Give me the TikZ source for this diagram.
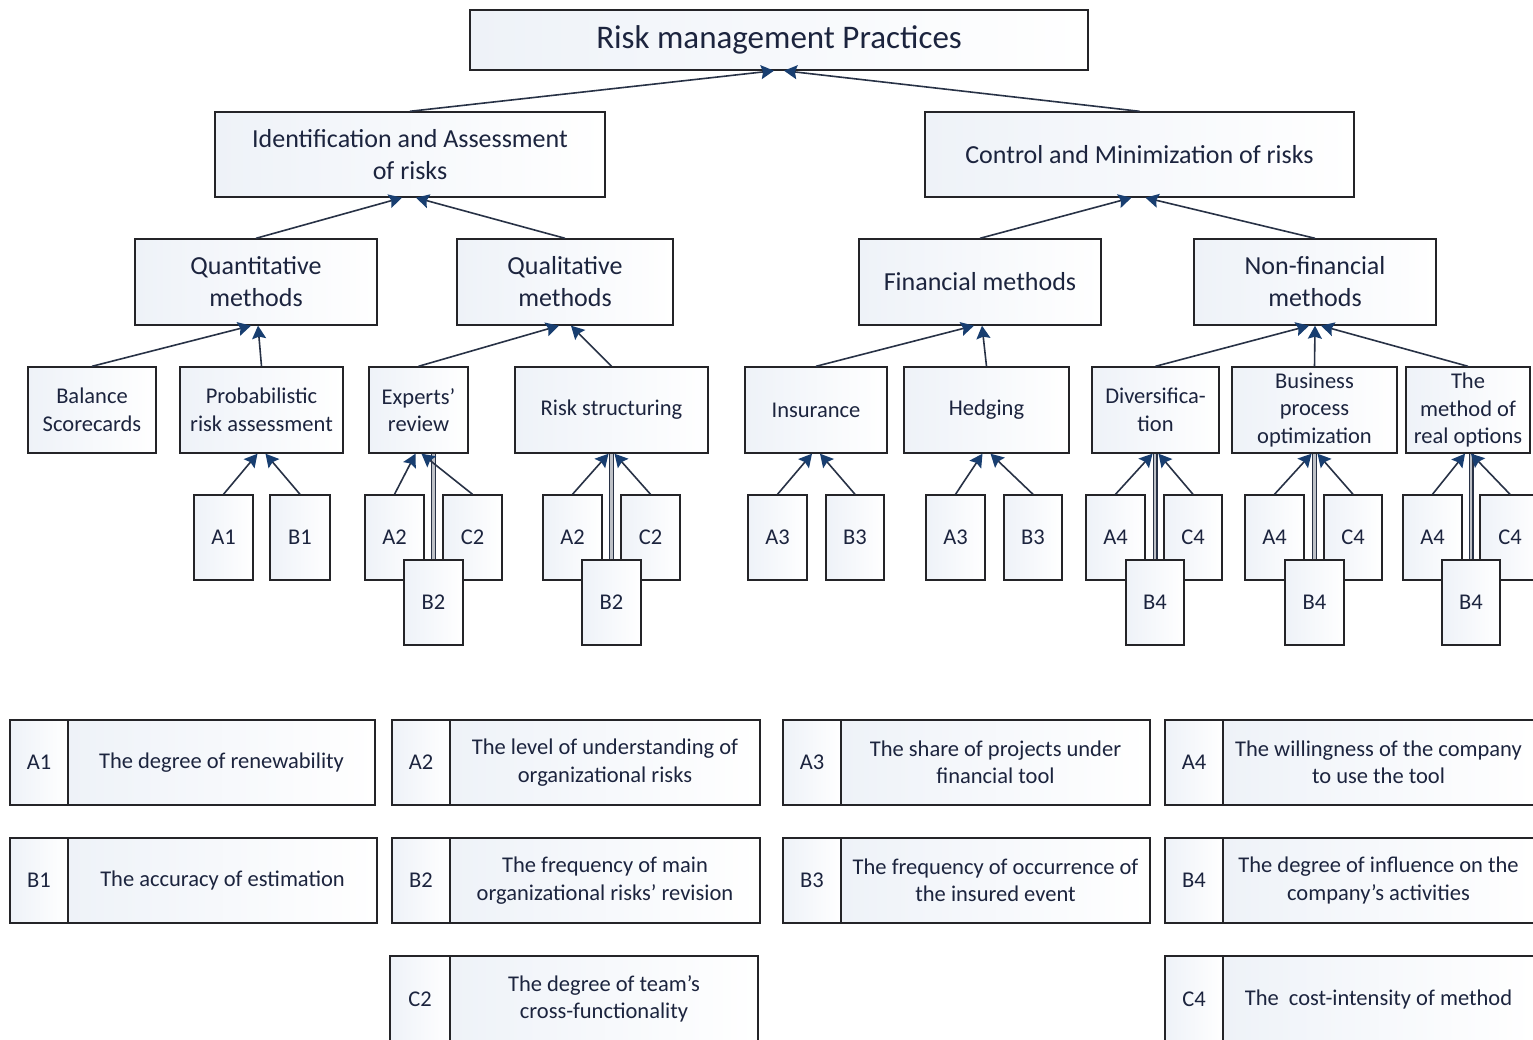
\documentclass[tikz,border=0pt]{standalone}
\usepackage{fontspec}
\setmainfont{Carlito}
\usetikzlibrary{arrows.meta}
\definecolor{txt}{RGB}{28,36,62}
\definecolor{edge}{RGB}{36,36,40}
\definecolor{shd}{RGB}{238,242,248}
\definecolor{lnk}{RGB}{40,50,70}
\definecolor{tip}{RGB}{24,62,112}
\tikzset{
  box/.style={draw=edge, line width=1.4pt, left color=shd, middle color=white, right color=white,
    text=txt, align=center, inner sep=0pt},
  fTop/.style={font=\fontsize{33}{38}\selectfont},
  fMid/.style={font=\fontsize{26}{32}\selectfont},
  fLow/.style={font=\fontsize{22.5}{27.5}\selectfont},
  fKey/.style={font=\fontsize{22.5}{27.5}\selectfont},
  conn/.style={draw=lnk, line width=1.6pt, -{Stealth[length=13pt,width=14pt,inset=2pt,color=tip]}},
  dbl/.style={draw=lnk, line width=1.2pt, double=lnk!30!white, double distance=2.6pt},
}
% box given by its two corners: style, name, x1, y1, x2, y2, text
\newcommand\rbox[7]{\node[#1, minimum width={#5-#3}, minimum height={#6-#4}] (#2) at ({(#3+#5)/2},{(#4+#6)/2}) {#7};}
\begin{document}
\begin{tikzpicture}[x=1pt,y=-1pt]
\fill[white] (0,0) rectangle (1533,1039);
\clip (0,0) rectangle (1533,1039);

% levels 1-4
\rbox{box,fTop}{top}{470}{10}{1088}{70}{Risk management Practices}
\rbox{box,fMid}{idf}{215}{112}{605}{197}{Identification and Assessment\\of risks}
\rbox{box,fMid}{ctl}{925}{112}{1354}{197}{Control and Minimization of risks}

\rbox{box,fMid}{qnt}{135}{239}{377}{325}{Quantitative\\methods}
\rbox{box,fMid}{qlt}{457}{239}{673}{325}{Qualitative\\methods}
\rbox{box,fMid}{fin}{859}{239}{1101}{325}{Financial methods}
\rbox{box,fMid}{nfn}{1194}{239}{1436}{325}{Non-financial\\methods}

\rbox{box,fLow}{bal}{28}{367}{156}{453}{Balance\\Scorecards}
\rbox{box,fLow}{prb}{180}{367}{343}{453}{Probabilistic\\risk assessment}
\rbox{box,fLow}{exr}{369}{367}{468}{453}{Experts’\\review}
\rbox{box,fLow}{rst}{515}{367}{708}{453}{Risk structuring}
\rbox{box,fLow}{ins}{745}{367}{887}{453}{Insurance}
\rbox{box,fLow}{hdg}{904}{367}{1069}{453}{Hedging}
\rbox{box,fLow}{dvs}{1092}{367}{1219}{453}{Diversifica-\\tion}
\rbox{box,fLow}{bpo}{1232}{367}{1397}{453}{Business\\process\\optimization}
\rbox{box,fLow}{rop}{1406}{367}{1530}{453}{The\\method of\\real options}

% criteria boxes
\rbox{box,fKey}{a1}{194}{495}{253}{580}{A1}
\rbox{box,fKey}{b1}{270}{495}{330}{580}{B1}

\rbox{box,fKey}{ea2}{365}{495}{424}{580}{A2}
\rbox{box,fKey}{ec2}{443}{495}{502}{580}{C2}
\rbox{box,fKey}{eb2}{404}{560}{463}{645}{B2}

\rbox{box,fKey}{ra2}{543}{495}{602}{580}{A2}
\rbox{box,fKey}{rc2}{621}{495}{680}{580}{C2}
\rbox{box,fKey}{rb2}{582}{560}{641}{645}{B2}

\rbox{box,fKey}{ia3}{748}{495}{807}{580}{A3}
\rbox{box,fKey}{ib3}{826}{495}{884}{580}{B3}
\rbox{box,fKey}{ha3}{926}{495}{985}{580}{A3}
\rbox{box,fKey}{hb3}{1004}{495}{1062}{580}{B3}

\rbox{box,fKey}{da4}{1086}{495}{1145}{580}{A4}
\rbox{box,fKey}{dc4}{1164}{495}{1222}{580}{C4}
\rbox{box,fKey}{db4}{1126}{560}{1184}{645}{B4}

\rbox{box,fKey}{pa4}{1245}{495}{1304}{580}{A4}
\rbox{box,fKey}{pc4}{1324}{495}{1382}{580}{C4}
\rbox{box,fKey}{pb4}{1285}{560}{1344}{645}{B4}

\rbox{box,fKey}{oa4}{1403}{495}{1462}{580}{A4}
\rbox{box,fKey}{oc4}{1480}{495}{1540}{580}{C4}
\rbox{box,fKey}{ob4}{1442}{560}{1500}{645}{B4}

% connectors
\draw[conn] (idf.north) -- ([xshift=-5pt]top.south);
\draw[conn] (ctl.north) -- ([xshift=5pt]top.south);
\draw[conn] (qnt.north) -- ([xshift=-8pt]idf.south);
\draw[conn] (qlt.north) -- ([xshift=6pt]idf.south);
\draw[conn] (fin.north) -- ([xshift=-8pt]ctl.south);
\draw[conn] (nfn.north) -- ([xshift=6pt]ctl.south);

\draw[conn] (bal.north) -- ([xshift=-5pt]qnt.south);
\draw[conn] (prb.north) -- ([xshift=2pt]qnt.south);
\draw[conn] (exr.north) -- ([xshift=-6pt]qlt.south);
\draw[conn] (rst.north) -- ([xshift=6pt]qlt.south);
\draw[conn] (ins.north) -- ([xshift=-6pt]fin.south);
\draw[conn] (hdg.north) -- ([xshift=2pt]fin.south);
\draw[conn] (dvs.north) -- ([xshift=-6pt]nfn.south);
\draw[conn] (bpo.north) -- (nfn.south);
\draw[conn] (rop.north) -- ([xshift=6pt]nfn.south);

\draw[conn] (a1.north) -- ([xshift=-4pt]prb.south);
\draw[conn] (b1.north) -- ([xshift=4pt]prb.south);
\draw[conn] (ia3.north) -- ([xshift=-4pt]ins.south);
\draw[conn] (ib3.north) -- ([xshift=4pt]ins.south);
\draw[conn] (ha3.north) -- ([xshift=-4pt]hdg.south);
\draw[conn] (hb3.north) -- ([xshift=4pt]hdg.south);

\foreach \p/\a/\b/\c in {exr/ea2/eb2/ec2, rst/ra2/rb2/rc2, dvs/da4/db4/dc4, bpo/pa4/pb4/pc4, rop/oa4/ob4/oc4}{
  \draw[dbl] (\b.north) -- (\b.north |- \p.south);
  \draw[conn] (\a.north) -- ([xshift=-3pt]\p.south);
  \draw[conn] (\c.north) -- ([xshift=3pt]\p.south);
}

% legend of criteria
\rbox{box,fKey}{ka1}{10}{720}{68}{805}{A1}
\rbox{box,fKey}{ta1}{68}{720}{375}{805}{The degree of renewability}
\rbox{box,fKey}{ka2}{392}{720}{450}{805}{A2}
\rbox{box,fKey}{ta2}{450}{720}{760}{805}{The level of understanding of\\organizational risks}
\rbox{box,fKey}{ka3}{783}{720}{841}{805}{A3}
\rbox{box,fKey}{ta3}{841}{720}{1150}{805}{The share of projects under\\financial tool}
\rbox{box,fKey}{ka4}{1165}{720}{1223}{805}{A4}
\rbox{box,fKey}{ta4}{1223}{720}{1534}{805}{The willingness of the company\\to use the tool}

\rbox{box,fKey}{kb1}{10}{838}{68}{923}{B1}
\rbox{box,fKey}{tb1}{68}{838}{377}{923}{The accuracy of estimation}
\rbox{box,fKey}{kb2}{392}{838}{450}{923}{B2}
\rbox{box,fKey}{tb2}{450}{838}{760}{923}{The frequency of main\\organizational risks’ revision}
\rbox{box,fKey}{kb3}{783}{838}{841}{923}{B3}
\rbox{box,fKey}{tb3}{841}{838}{1150}{923}{The frequency of occurrence of\\the insured event}
\rbox{box,fKey}{kb4}{1165}{838}{1223}{923}{B4}
\rbox{box,fKey}{tb4}{1223}{838}{1534}{923}{The degree of influence on the\\company's activities}

\rbox{box,fKey}{kc2}{390}{956}{450}{1042}{C2}
\rbox{box,fKey}{tc2}{450}{956}{758}{1042}{The degree of team’s\\cross-functionality}
\rbox{box,fKey}{kc4}{1165}{956}{1223}{1042}{C4}
\rbox{box,fKey}{tc4}{1223}{956}{1534}{1042}{The\ \ cost-intensity of method}
\end{tikzpicture}
\end{document}
